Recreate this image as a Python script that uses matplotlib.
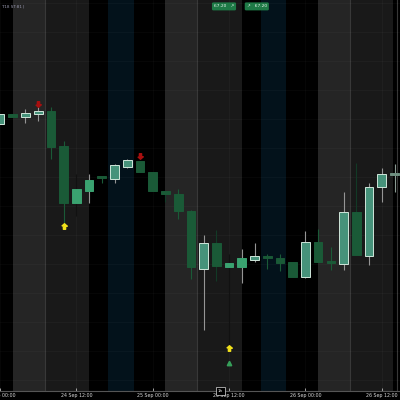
import numpy as np
import matplotlib.pyplot as plt
from matplotlib.patches import Rectangle

# 2h candles, index 0 = 24 Sep 02:00
bar_idx = np.arange(-1, 31)
opens = [66.76, 66.86, 66.83, 66.86, 66.89, 66.54, 65.97, 66.09, 66.24, 66.21, 66.33,
         66.39, 66.28, 66.09, 66.06, 65.89, 65.31, 65.57, 65.33, 65.33, 65.40, 65.44,
         65.42, 65.38, 65.23, 65.58, 65.38, 65.36, 65.88, 65.44, 66.13, 66.25]
highs = [66.86, 66.86, 66.91, 66.93, 66.93, 66.59, 66.26, 66.26, 66.24, 66.36, 66.41,
         66.39, 66.28, 66.09, 66.11, 65.90, 65.65, 65.70, 65.46, 65.51, 65.57, 65.46,
         65.46, 65.38, 65.69, 65.71, 65.53, 66.08, 66.37, 66.17, 66.32, 66.36]
lows = [66.76, 66.83, 66.77, 66.79, 66.41, 65.77, 65.84, 65.97, 66.17, 66.17, 66.32,
        66.28, 66.09, 65.98, 65.81, 65.21, 64.70, 65.19, 64.55, 65.17, 65.38, 65.31,
        65.29, 65.23, 65.22, 65.38, 65.30, 65.30, 65.45, 65.35, 65.98, 66.08]
closes = [66.86, 66.83, 66.87, 66.89, 66.53, 65.97, 66.11, 66.20, 66.22, 66.35, 66.40,
          66.28, 66.09, 66.06, 65.89, 65.33, 65.57, 65.34, 65.37, 65.42, 65.44, 65.42,
          65.37, 65.23, 65.58, 65.38, 65.37, 65.88, 65.45, 66.13, 66.26, 66.26]

# signals
sell_idx = [2, 10]
sell_px = [66.96, 66.44]
buy_idx = [4, 17]
buy_px = [65.74, 64.52]
entry_idx = [17]
entry_px = [64.37]

tick_idx = [-1, 5, 11, 17, 23, 29]
tick_labels = ['24 Sep 00:00', '24 Sep 12:00', '25 Sep 00:00',
               '25 Sep 12:00', '26 Sep 00:00', '26 Sep 12:00']

# session shading (in bar units)
light_sessions = [(0, 2.5), (12, 14.5), (24, 26.5)]
dark_sessions = [(2.5, 6), (14.5, 18), (26.5, 29.9)]
blue_sessions = [(7.5, 9.5), (19.5, 21.5)]
separators = [2.5, 14.5, 26.5, 30.2]

outlined = {-1, 1, 2, 8, 9, 15, 19, 23, 26, 28, 29}
dark_wick = {5, 12, 16, 17, 27}

BEAR = '#1a5a37'

fig = plt.figure(figsize=(4, 4), dpi=100, facecolor='black')
ax = fig.add_axes([0, 9 / 400, 1, 391 / 400])
ax.set_facecolor('black')
ax.set_xlim(-0.70, 30.43)
ax.set_ylim(64.09, 68.0)

for a, b in light_sessions:
    ax.axvspan(a, b, color='#252525', lw=0, zorder=0)
for a, b in dark_sessions:
    ax.axvspan(a, b, color='#191919', lw=0, zorder=0)
for a, b in blue_sessions:
    ax.axvspan(a, b, color='#03121b', lw=0, zorder=0)
for s in separators:
    ax.axvline(s, color='#383838', lw=0.8, zorder=1)

for yy in np.arange(64.2, 68.0, 0.29):
    ax.axhline(yy, color='white', alpha=0.03, lw=0.6, zorder=1)
for t in tick_idx:
    ax.axvline(t, color='white', alpha=0.03, lw=0.6, zorder=1)

w = 0.68
for i, o, h, l, c in zip(bar_idx, opens, highs, lows, closes):
    up = c >= o
    if i == 30:
        fill, wick = '#6f8f80', '#8a9a92'
    elif up:
        fill = '#46927a' if i in outlined else '#3aa270'
        wick = '#959595'
    else:
        fill, wick = BEAR, BEAR
    if i in dark_wick:
        wick = '#111111' if up else '#123a26'
    ax.vlines(i, l, h, color=wick, lw=0.8, zorder=2)
    lo, hi = min(o, c), max(o, c)
    hgt = max(hi - lo, 0.02)
    ec = '#cfe6da' if (up and i in outlined) else fill
    ax.add_patch(Rectangle((i - w / 2, lo), w, hgt, facecolor=fill,
                           edgecolor=ec, lw=0.7, zorder=3))

up_arrow = [(-1, 0.1), (0, 1), (1, 0.1), (0.4, 0.1), (0.4, -1), (-0.4, -1), (-0.4, 0.1)]
down_arrow = [(x, -y) for x, y in up_arrow]
ax.plot(sell_idx, sell_px, ls='none', marker=down_arrow, ms=4, color='#a80f0f', zorder=4)
ax.plot(buy_idx, buy_px, ls='none', marker=up_arrow, ms=4, color='#f0e01a', zorder=4)
ax.plot(entry_idx, entry_px, ls='none', marker='^', ms=3.2, color='#36a05a', zorder=4)

for sp in ['top', 'left', 'right']:
    ax.spines[sp].set_visible(False)
ax.spines['bottom'].set_color('#555555')
ax.spines['bottom'].set_linewidth(0.8)
ax.set_yticks([])
ax.set_xticks(tick_idx)
ax.set_xticklabels(tick_labels, fontsize=3.4, color='#d8d8d8')
ax.tick_params(axis='x', direction='in', length=2.5, width=0.6, color='#bbbbbb', pad=1.5)

# header badges / status text
fig.text(0.002, 0.985, 'T:18 ST:81 |', fontsize=3, color='#9a9ab0', va='center', ha='left')
for xc, txt in [(0.56, '67.20   ↗'), (0.642, '↗   67.20')]:
    fig.text(xc, 0.984, txt, fontsize=3.2, color='#e8f5ee', ha='center', va='center',
             bbox=dict(boxstyle='round,pad=0.45,rounding_size=0.3', fc='#1e7a46', ec='none'))

fig.text(0.551, 0.0225, '1h', fontsize=3, color='white', ha='center', va='center',
         bbox=dict(boxstyle='square,pad=0.4', fc='black', ec='#dddddd', lw=0.5))

plt.savefig('out.png', dpi=100, facecolor='black')
